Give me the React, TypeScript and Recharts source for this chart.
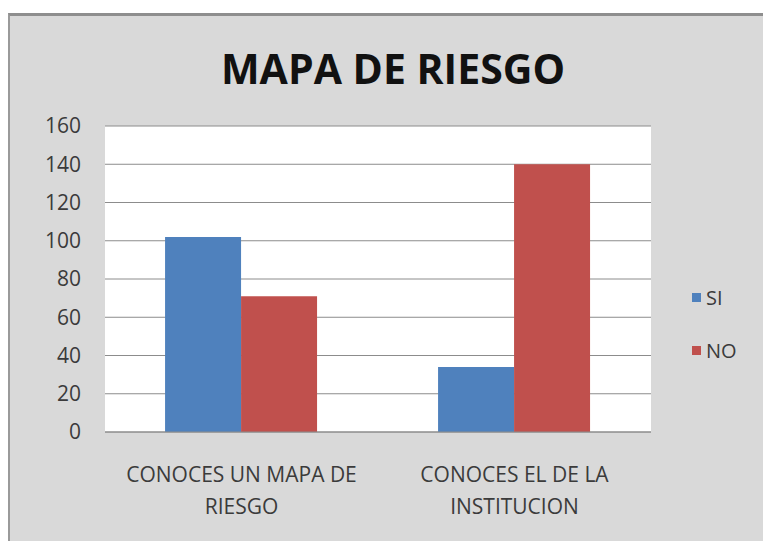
import React from "react";
import { BarChart, Bar, XAxis, YAxis, CartesianGrid } from "recharts";

// Survey answers per question (line breaks as in the original axis labels)
const categories = ["CONOCES UN MAPA DE\nRIESGO", "CONOCES EL DE LA\nINSTITUCION"];
const siValues = [102, 34];
const noValues = [71, 140];
const yTicks = [0, 20, 40, 60, 80, 100, 120, 140, 160];

const SERIES = [
  { key: "SI", color: "#4f81bd" },
  { key: "NO", color: "#c0504d" },
];

const data = categories.map((name, i) => ({ name, SI: siValues[i], NO: noValues[i] }));

const FONT = "'Open Sans', sans-serif";
const TEXT = "#3b3b3b";

function CategoryTick(props: any) {
  const { x, y, payload } = props;
  const lines = String(payload.value).split("\n");
  return (
    <text x={x} y={y} textAnchor="middle" style={{ fontFamily: FONT, fontSize: 21, fill: TEXT }}>
      {lines.map((line, i) => (
        <tspan key={i} x={x} dy={i === 0 ? 42 : 32}>
          {line}
        </tspan>
      ))}
    </text>
  );
}

export default function App() {
  return (
    <div style={{ position: "absolute", left: 0, top: 0, width: 763, height: 541, background: "#fff", overflow: "hidden" }}>
      {/* chart area frame */}
      <div
        style={{
          position: "absolute",
          left: 8,
          top: 13,
          width: 760,
          height: 540,
          background: "#d9d9d9",
          borderTop: "3px solid #8e8e8e",
          borderLeft: "2px solid #9a9a9a",
        }}
      />
      <div
        style={{
          position: "absolute",
          left: 0,
          top: 43,
          width: 786,
          textAlign: "center",
          fontFamily: FONT,
          fontWeight: 700,
          fontSize: 41,
          lineHeight: "50px",
          color: "#111",
        }}
      >
        MAPA DE RIESGO
      </div>
      <div style={{ position: "absolute", left: 0, top: 0 }}>
        <BarChart
          width={763}
          height={541}
          data={data}
          margin={{ top: 126, right: 112, bottom: 0, left: 0 }}
          barCategoryGap="22%"
          barGap={0}
        >
          <CartesianGrid vertical={false} stroke="#8c8c8c" fill="#ffffff" />
          <XAxis
            dataKey="name"
            height={109}
            axisLine={{ stroke: "#8c8c8c" }}
            tickLine={false}
            interval={0}
            tick={<CategoryTick />}
          />
          <YAxis
            width={105}
            domain={[0, 160]}
            ticks={yTicks}
            interval={0}
            axisLine={false}
            tickLine={false}
            tickSize={6}
            tickMargin={18}
            tick={{ fontFamily: FONT, fontSize: 21, fill: TEXT }}
          />
          {SERIES.map((s) => (
            <Bar key={s.key} dataKey={s.key} fill={s.color} isAnimationActive={false} />
          ))}
        </BarChart>
      </div>
      {/* legend */}
      <div style={{ position: "absolute", left: 692, top: 271, fontFamily: FONT, fontSize: 20, color: TEXT }}>
        {SERIES.map((s) => (
          <div key={s.key} style={{ display: "flex", alignItems: "center", height: 53 }}>
            <div style={{ width: 9, height: 9, background: s.color, marginRight: 5 }} />
            <span>{s.key}</span>
          </div>
        ))}
      </div>
    </div>
  );
}
